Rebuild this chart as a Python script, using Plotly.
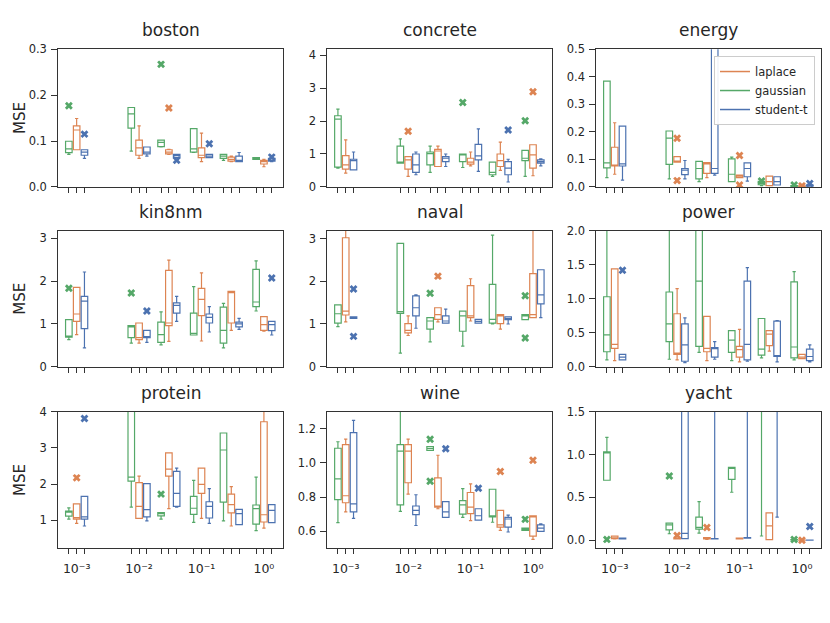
import math
import plotly.graph_objects as go

# ---------------- data ----------------
lambdas = [0.001, 0.01, 0.03, 0.1, 0.3, 1.0]
series_names = ["gaussian", "laplace", "student-t"]
dataset_names = ["boston", "concrete", "energy", "kin8nm", "naval", "power",
                 "protein", "wine", "yacht"]
decade_values = [0.001, 0.01, 0.1, 1.0]
decade_labels = ["10⁻³", "10⁻²", "10⁻¹", "10⁰"]

# each entry: [lower whisker, q1, median, q3, upper whisker] per lambda
boston_gaussian = [[0.071, 0.0746, 0.083, 0.0995, 0.0995], [0.078, 0.128, 0.159, 0.173, 0.173],
                   [0.087, 0.088, 0.097, 0.102, 0.102], [0.075, 0.076, 0.083, 0.127, 0.127],
                   [0.058, 0.062, 0.067, 0.071, 0.071], [0.060, 0.060, 0.062, 0.064, 0.064]]
boston_laplace = [[0.081, 0.081, 0.124, 0.133, 0.149], [0.062, 0.069, 0.085, 0.102, 0.133],
                  [0.071, 0.072, 0.076, 0.081, 0.082], [0.055, 0.064, 0.069, 0.085, 0.117],
                  [0.055, 0.056, 0.060, 0.065, 0.067], [0.044, 0.050, 0.055, 0.058, 0.060]]
boston_student = [[0.062, 0.069, 0.076, 0.081, 0.081], [0.067, 0.072, 0.076, 0.087, 0.087],
                  [0.064, 0.064, 0.068, 0.071, 0.071], [0.064, 0.064, 0.067, 0.071, 0.071],
                  [0.055, 0.055, 0.058, 0.067, 0.075], [0.055, 0.056, 0.058, 0.062, 0.062]]
boston_gaussian_out = [[0.177], [], [0.267], [], [], []]
boston_laplace_out = [[], [], [0.172], [], [], []]
boston_student_out = [[0.115], [], [0.058], [0.094], [], [0.065]]

concrete_gaussian = [[0.57, 0.60, 2.06, 2.16, 2.36], [0.72, 0.72, 0.74, 1.24, 1.46],
                     [0.44, 0.67, 1.01, 1.06, 1.24], [0.59, 0.77, 0.97, 1.00, 1.00],
                     [0.32, 0.37, 0.44, 0.75, 0.75], [0.32, 0.80, 0.87, 1.11, 1.11]]
concrete_laplace = [[0.42, 0.54, 0.67, 0.95, 1.43], [0.32, 0.54, 0.82, 0.92, 0.92],
                    [0.62, 0.62, 1.09, 1.14, 1.24], [0.64, 0.69, 0.75, 0.87, 1.06],
                    [0.50, 0.62, 0.80, 1.00, 1.36], [0.34, 0.57, 0.97, 1.28, 1.28]]
concrete_student = [[0.52, 0.52, 0.80, 0.84, 1.06], [0.37, 0.44, 0.67, 1.00, 1.06],
                    [0.62, 0.77, 0.87, 0.92, 1.00], [0.47, 0.82, 0.94, 1.29, 1.76],
                    [0.15, 0.37, 0.57, 0.77, 0.84], [0.64, 0.72, 0.77, 0.82, 0.85]]
concrete_gaussian_out = [[], [], [], [2.56], [], [2.01]]
concrete_laplace_out = [[], [1.69], [], [], [], [2.89]]
concrete_student_out = [[], [], [], [], [1.73], []]

energy_gaussian = [[0.034, 0.069, 0.087, 0.384, 0.384], [0.029, 0.082, 0.177, 0.203, 0.203],
                   [0.019, 0.029, 0.067, 0.093, 0.093], [0.019, 0.019, 0.046, 0.102, 0.108],
                   [0.005, 0.008, 0.013, 0.020, 0.020], [0.003, 0.003, 0.004, 0.005, 0.005]]
energy_laplace = [[0.046, 0.076, 0.076, 0.144, 0.233], [0.090, 0.090, 0.093, 0.110, 0.110],
                  [0.034, 0.049, 0.084, 0.088, 0.088], [0.034, 0.034, 0.039, 0.043, 0.043],
                  [0.005, 0.005, 0.019, 0.039, 0.039], [0.002, 0.002, 0.003, 0.004, 0.004]]
energy_student = [[0.025, 0.076, 0.084, 0.221, 0.221], [0.029, 0.045, 0.061, 0.067, 0.096],
                  [0.043, 0.049, 0.067, 0.620, 0.800], [0.021, 0.037, 0.067, 0.087, 0.087],
                  [0.007, 0.007, 0.019, 0.037, 0.037], [0.003, 0.003, 0.005, 0.007, 0.007]]
energy_gaussian_out = [[], [], [], [], [0.022], [0.007]]
energy_laplace_out = [[], [0.177, 0.023], [], [0.114, 0.007], [], [0.004]]
energy_student_out = [[], [], [], [], [], [0.013]]

kin8nm_gaussian = [[0.63, 0.69, 0.70, 1.10, 1.10], [0.55, 0.68, 0.93, 0.96, 0.96],
                   [0.51, 0.57, 0.75, 1.04, 1.28], [0.74, 0.74, 0.78, 1.25, 1.87],
                   [0.44, 0.55, 0.85, 1.39, 1.48], [1.30, 1.40, 1.51, 2.27, 2.47]]
kin8nm_laplace = [[0.75, 1.06, 1.23, 1.85, 1.85], [0.55, 0.63, 0.68, 1.02, 1.02],
                  [0.59, 0.96, 1.02, 2.25, 2.49], [0.60, 1.19, 1.57, 1.83, 2.19],
                  [0.85, 1.02, 1.73, 1.76, 1.76], [0.83, 0.85, 0.98, 1.17, 1.17]]
kin8nm_student = [[0.44, 0.89, 1.53, 1.64, 2.21], [0.57, 0.68, 0.68, 0.85, 0.85],
                  [1.06, 1.25, 1.43, 1.49, 1.64], [0.81, 1.02, 1.15, 1.23, 1.40],
                  [0.87, 0.93, 1.00, 1.04, 1.13], [0.74, 0.84, 0.98, 1.06, 1.06]]
kin8nm_gaussian_out = [[1.83], [1.72], [], [], [], []]
kin8nm_laplace_out = [[], [], [], [], [], []]
kin8nm_student_out = [[], [1.30], [], [], [], [2.07]]

naval_gaussian = [[0.94, 1.02, 1.24, 1.45, 1.45], [0.32, 1.25, 1.29, 2.89, 2.89],
                  [0.58, 0.88, 1.07, 1.15, 1.15], [0.48, 0.83, 1.19, 1.30, 1.30],
                  [1.00, 1.02, 1.11, 1.93, 3.08], [1.10, 1.10, 1.19, 1.22, 1.22]]
naval_laplace = [[1.05, 1.21, 1.30, 3.02, 3.40], [0.73, 0.79, 0.85, 1.01, 1.19],
                 [1.05, 1.11, 1.22, 1.38, 1.38], [1.07, 1.15, 1.19, 1.90, 2.06],
                 [0.88, 1.01, 1.19, 1.22, 1.22], [1.15, 1.15, 1.22, 2.18, 3.40]]
naval_student = [[1.13, 1.13, 1.15, 1.17, 1.17], [0.90, 1.19, 1.38, 1.66, 1.68],
                 [1.02, 1.02, 1.07, 1.19, 1.35], [1.02, 1.02, 1.06, 1.11, 1.11],
                 [1.00, 1.10, 1.13, 1.17, 1.17], [1.15, 1.47, 1.68, 2.27, 2.27]]
naval_gaussian_out = [[], [], [1.72], [], [], [1.66, 0.67]]
naval_laplace_out = [[], [], [2.12], [], [], []]
naval_student_out = [[1.82, 0.71], [], [], [], [], []]

power_gaussian = [[0.10, 0.22, 0.47, 1.03, 2.30], [0.11, 0.37, 0.63, 1.10, 2.30],
                  [0.21, 0.30, 1.26, 2.10, 2.50], [0.09, 0.21, 0.39, 0.53, 0.53],
                  [0.13, 0.17, 0.26, 0.71, 0.71], [0.10, 0.13, 0.29, 1.25, 1.40]]
power_laplace = [[0.09, 0.27, 0.33, 1.44, 1.44], [0.10, 0.18, 0.20, 0.78, 1.15],
                 [0.09, 0.22, 0.27, 0.74, 0.74], [0.07, 0.14, 0.25, 0.30, 0.55],
                 [0.23, 0.31, 0.48, 0.53, 0.53], [0.12, 0.12, 0.14, 0.18, 0.18]]
power_student = [[0.10, 0.10, 0.14, 0.18, 0.18], [0.06, 0.08, 0.32, 0.63, 0.72],
                 [0.11, 0.14, 0.27, 0.28, 0.37], [0.08, 0.10, 0.33, 1.26, 1.46],
                 [0.07, 0.15, 0.15, 0.67, 0.68], [0.07, 0.09, 0.15, 0.26, 0.32]]
power_gaussian_out = [[], [], [], [], [], []]
power_laplace_out = [[], [], [], [], [], []]
power_student_out = [[1.42], [], [], [], [], []]

protein_gaussian = [[1.03, 1.11, 1.23, 1.25, 1.34], [1.36, 2.08, 2.19, 4.50, 5.00],
                    [1.03, 1.12, 1.18, 1.21, 1.21], [0.94, 1.16, 1.33, 1.66, 2.10],
                    [0.98, 1.50, 2.94, 3.41, 3.41], [0.71, 0.89, 1.32, 1.42, 2.19]]
protein_laplace = [[0.91, 1.03, 1.07, 1.45, 1.45], [1.05, 1.05, 1.38, 2.04, 2.22],
                   [1.32, 2.22, 2.41, 2.86, 2.86], [1.05, 1.74, 1.99, 2.44, 2.44],
                   [0.84, 1.20, 1.43, 1.72, 1.93], [0.78, 0.95, 1.15, 3.72, 4.20]]
protein_student = [[0.84, 1.03, 1.09, 1.66, 1.66], [0.98, 1.09, 1.29, 2.01, 2.01],
                   [1.36, 1.38, 1.74, 2.35, 2.44], [0.91, 1.06, 1.38, 1.51, 1.87],
                   [0.88, 0.88, 1.18, 1.30, 1.30], [0.93, 0.93, 1.27, 1.43, 1.43]]
protein_gaussian_out = [[], [], [1.72], [], [], []]
protein_laplace_out = [[2.17], [], [], [], [], []]
protein_student_out = [[3.81], [], [], [], [], []]

wine_gaussian = [[0.651, 0.785, 0.907, 1.086, 1.124], [0.717, 0.755, 1.069, 1.107, 1.400],
                 [1.073, 1.073, 1.085, 1.096, 1.096], [0.681, 0.700, 0.755, 0.780, 0.850],
                 [0.653, 0.685, 0.685, 0.846, 0.846], [0.606, 0.606, 0.613, 0.619, 0.619]]
wine_laplace = [[0.714, 0.767, 0.808, 1.107, 1.139], [0.818, 0.884, 1.069, 1.107, 1.139],
                [0.732, 0.742, 0.746, 0.912, 1.045], [0.662, 0.704, 0.742, 0.827, 0.878],
                [0.606, 0.625, 0.638, 0.723, 0.723], [0.553, 0.572, 0.685, 0.691, 0.691]]
wine_student = [[0.676, 0.714, 0.761, 1.177, 1.249], [0.634, 0.698, 0.723, 0.748, 0.814],
                [0.681, 0.681, 0.714, 0.774, 0.774], [0.666, 0.666, 0.691, 0.732, 0.732],
                [0.596, 0.625, 0.672, 0.681, 0.695], [0.600, 0.600, 0.619, 0.638, 0.643]]
wine_gaussian_out = [[], [], [1.139, 0.893], [], [], [0.670]]
wine_laplace_out = [[], [], [], [], [0.950], [1.016]]
wine_student_out = [[], [], [1.083], [0.852], [], []]

yacht_gaussian = [[0.70, 0.70, 1.03, 1.03, 1.20], [0.076, 0.12, 0.18, 0.20, 0.20],
                  [0.084, 0.13, 0.15, 0.27, 0.45], [0.56, 0.71, 0.84, 0.85, 0.85],
                  [0.05, 1.60, 1.80, 2.00, 2.50], [0.0, 0.003, 0.005, 0.008, 0.010]]
yacht_laplace = [[0.015, 0.020, 0.035, 0.050, 0.050], [0.015, 0.015, 0.020, 0.025, 0.025],
                 [0.010, 0.015, 0.020, 0.030, 0.030], [0.015, 0.015, 0.020, 0.025, 0.025],
                 [0.008, 0.008, 0.167, 0.320, 0.320], [0.0, 0.0, 0.002, 0.003, 0.003]]
yacht_student = [[0.015, 0.015, 0.020, 0.025, 0.025], [0.020, 0.020, 0.080, 2.00, 3.00],
                 [0.015, 0.015, 0.018, 0.020, 3.00], [0.025, 0.025, 0.027, 0.030, 3.00],
                 [0.27, 1.60, 1.80, 2.00, 3.00], [0.0, 0.0, 0.001, 0.002, 0.002]]
yacht_gaussian_out = [[0.01], [0.75], [], [], [], [0.008]]
yacht_laplace_out = [[], [0.057], [0.148], [], [], [0.0]]
yacht_student_out = [[], [], [], [], [], [0.16]]

# y-axis setup per dataset: range and tick values/labels
y_ranges = {"boston": [0, 0.3], "concrete": [0, 4.18], "energy": [0, 0.5],
            "kin8nm": [0, 3.17], "naval": [0, 3.18], "power": [0, 2.0],
            "protein": [0.22, 4.0], "wine": [0.5, 1.3], "yacht": [-0.095, 1.5]}
y_ticks = {"boston": [0.0, 0.1, 0.2, 0.3], "concrete": [0, 1, 2, 3, 4],
           "energy": [0.0, 0.1, 0.2, 0.3, 0.4, 0.5], "kin8nm": [0, 1, 2, 3],
           "naval": [0, 1, 2, 3], "power": [0.0, 0.5, 1.0, 1.5, 2.0],
           "protein": [1, 2, 3, 4], "wine": [0.6, 0.8, 1.0, 1.2],
           "yacht": [0.0, 0.5, 1.0, 1.5]}
y_fmt = {"boston": ".1f", "concrete": "d", "energy": ".1f", "kin8nm": "d", "naval": "d",
         "power": ".1f", "protein": "d", "wine": ".1f", "yacht": ".1f"}

g = globals()
stats = {(d, s): g[f"{d}_{s.split('-')[0]}"] for d in dataset_names for s in series_names}
outs = {(d, s): g[f"{d}_{s.split('-')[0]}_out"] for d in dataset_names for s in series_names}

# ---------------- style ----------------
colors = {"gaussian": "#55a868", "laplace": "#dd8452", "student-t": "#4c72b0"}
offsets = {"gaussian": -1, "laplace": 0, "student-t": 1}
STEP = 0.125     # spacing of boxes within a group (decades)
BOXW = 0.105     # box width (decades)
FONT = "DejaVu Sans"
PAGE_W, PAGE_H, BODY_MARGIN = 830, 623, 8
W, H = PAGE_W - 2 * BODY_MARGIN, PAGE_H - 2 * BODY_MARGIN
col_px = [(58.3, 283.3), (327.7, 552.7), (597.0, 822.0)]   # page pixels
row_px = [(43, 184), (229, 368), (414, 554)]
x_range = [-3.295, 0.305]


def px(xp):
    return (xp - BODY_MARGIN) / W


def py(yp):
    return 1 - (yp - BODY_MARGIN) / H


fig = go.Figure()
layout = dict(width=W, height=H, margin=dict(l=0, r=0, t=0, b=0),
              plot_bgcolor="white", paper_bgcolor="white", boxmode="overlay",
              font=dict(family=FONT, color="#262626"), annotations=[])

box_positions = [math.log10(lam) + offsets[s] * STEP for lam in lambdas for s in series_names]
decade_positions = [math.log10(v) for v in decade_values]

for i, d in enumerate(dataset_names):
    r, c = divmod(i, 3)
    k = "" if i == 0 else str(i + 1)
    xa, ya = "x" + k, "y" + k
    for s in series_names:
        st = stats[(d, s)]
        xs = [math.log10(lam) + offsets[s] * STEP for lam in lambdas]
        fig.add_trace(go.Box(
            x=xs, lowerfence=[v[0] for v in st], q1=[v[1] for v in st],
            median=[v[2] for v in st], q3=[v[3] for v in st],
            upperfence=[v[4] for v in st], width=BOXW, whiskerwidth=0.5,
            line=dict(color=colors[s], width=1.2), fillcolor="rgba(255,255,255,0)",
            boxpoints=False, showlegend=False, hoverinfo="skip",
            xaxis=xa, yaxis=ya))
        ox, oy = [], []
        for lam, vals in zip(lambdas, outs[(d, s)]):
            for v in vals:
                ox.append(math.log10(lam) + offsets[s] * STEP)
                oy.append(v)
        if ox:
            fig.add_trace(go.Scatter(
                x=ox, y=oy, mode="markers", showlegend=False, hoverinfo="skip",
                marker=dict(symbol="x", size=7, color=colors[s], line=dict(width=0)),
                xaxis=xa, yaxis=ya))
    x0, x1 = col_px[c]
    y0, y1 = row_px[r]
    axis_common = dict(showline=True, mirror=True, linecolor="#333333", linewidth=1,
                       ticks="outside", tickwidth=1, tickcolor="#333333",
                       showgrid=False, zeroline=False)
    layout["xaxis" + k] = dict(
        axis_common, domain=[px(x0), px(x1)], anchor=ya, range=x_range, ticklen=5,
        tickmode="array", tickvals=decade_positions, ticktext=decade_labels,
        showticklabels=(r == 2), ticklabelstandoff=4,
        tickfont=dict(family=FONT, size=12.5, color="#262626"),
        minor=dict(tickmode="array", tickvals=box_positions, ticks="outside",
                   ticklen=5, tickwidth=1, tickcolor="#333333", showgrid=False))
    layout["yaxis" + k] = dict(
        axis_common, domain=[py(y1), py(y0)], anchor=xa, ticklen=6,
        range=y_ranges[d], tickmode="array", tickvals=y_ticks[d], ticklabelstandoff=2,
        tickfont=dict(family=FONT, size=11.5, color="#262626"),
        ticktext=[format(v, y_fmt[d]) if y_fmt[d] != "d" else str(int(v))
                  for v in y_ticks[d]])
    layout["annotations"].append(dict(
        text=d, x=px((x0 + x1) / 2), y=py(y0 - 7), xref="paper", yref="paper",
        xanchor="center", yanchor="bottom", showarrow=False,
        font=dict(family=FONT, size=17, color="#262626")))
    if c == 0:
        layout["annotations"].append(dict(
            text="MSE", x=px(20), y=py((y0 + y1) / 2), xref="paper", yref="paper",
            xanchor="center", yanchor="middle", showarrow=False, textangle=-90,
            font=dict(family=FONT, size=15, color="#262626")))

# legend entries (line handles), drawn in the energy panel
for s in ["laplace", "gaussian", "student-t"]:
    fig.add_trace(go.Scatter(x=[None], y=[None], mode="lines", name=s,
                             line=dict(color=colors[s], width=1.5),
                             xaxis="x3", yaxis="y3"))

layout["legend"] = dict(x=px(816), y=py(50), xanchor="right", yanchor="top",
                        bgcolor="rgba(255,255,255,0.9)", bordercolor="#cccccc",
                        borderwidth=1, font=dict(family=FONT, size=11.5, color="#262626"),
                        tracegroupgap=0, itemwidth=30)
fig.update_layout(**layout)
fig.write_html("out.html", config={"displayModeBar": False})
